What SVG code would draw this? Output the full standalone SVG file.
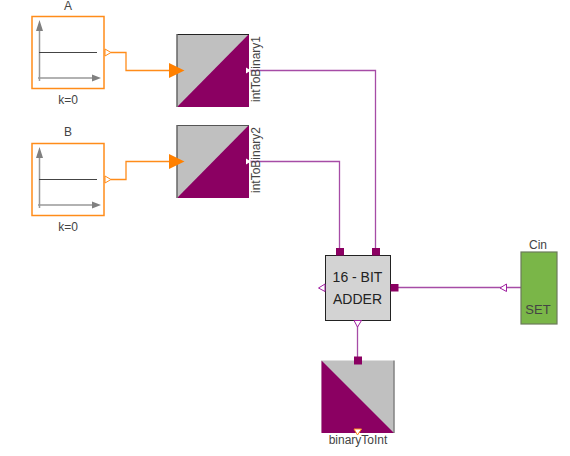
<svg xmlns="http://www.w3.org/2000/svg" width="570" height="456" viewBox="0 0 570 456">
<style>
text{font-family:"Liberation Sans",Arial,sans-serif;font-size:12px;fill:#444}
.src{fill:#fff;stroke:#ff8c1a;stroke-width:1.5}
.ax{fill:none;stroke:#999;stroke-width:1.5}
.tip{fill:#808080}
.lvl{stroke:#444;stroke-width:1;fill:none}
.or{fill:none;stroke:#ff8c1a;stroke-width:1.3}
.pu{fill:none;stroke:#a64ca6;stroke-width:1.3}
.port{fill:#8b0062}
.gr{fill:#c0c0c0}
.op{fill:#fff;stroke:#ff8c1a;stroke-width:1}
.opp{fill:#fff;stroke:#a020a0;stroke-width:1}
</style>
<g id="connectors">
<path class="or" d="M111 52.500H126V70.500H172"/>
<path class="or" d="M111 179.500H126V161.500H172"/>
<path class="pu" d="M250 70.500H375.500V248"/>
<path class="pu" d="M250 161.500H339.500V248"/>
<path class="pu" d="M398 287.500H521"/>
<path class="pu" d="M357.500 326V357"/>
</g>
<g id="A">
<rect class="src" x="32" y="16.500" width="72" height="72"/>
<path class="ax" d="M39.500 26V81M38 78H96"/>
<path class="tip" d="M39.500 20L36 31H43ZM101 78L92 74.500V81.500Z"/>
<path class="lvl" d="M39 52.500H97"/>
<path class="op" d="M105 49L111 52.500L105 56Z"/>
<text x="68" y="9.500" text-anchor="middle">A</text>
<text x="68" y="104" text-anchor="middle">k=0</text>
</g>
<g id="B">
<rect class="src" x="32" y="143.500" width="72" height="72"/>
<path class="ax" d="M39.500 153V208M38 205H96"/>
<path class="tip" d="M39.500 147L36 158H43ZM101 205L92 201.500V208.500Z"/>
<path class="lvl" d="M39 179.500H97"/>
<path class="op" d="M105 176L111 179.500L105 183Z"/>
<text x="68" y="136" text-anchor="middle">B</text>
<text x="68" y="231" text-anchor="middle">k=0</text>
</g>
<g id="intToBinary1">
<rect class="gr" x="177" y="34" width="72" height="72"/>
<path class="port" d="M249 34V107H177Z"/>
<path d="M177 34.500H249" stroke="#222" fill="none"/>
<path d="M177 34V107" stroke="#666" stroke-width="1.500" fill="none"/>
<path d="M169 63L184.500 70.500L169 78Z" fill="#ff8000"/>
<path d="M246 67.500L251 70.500L246 73.500Z" fill="#fff"/>
<text transform="translate(260 102) rotate(-90)">intToBinary1</text>
</g>
<g id="intToBinary2">
<rect class="gr" x="177" y="125" width="72" height="72"/>
<path class="port" d="M249 125V198H177Z"/>
<path d="M177 125.500H249" stroke="#555" fill="none"/>
<path d="M177 125V198" stroke="#666" stroke-width="1.500" fill="none"/>
<path d="M169 154L184.500 161.500L169 169Z" fill="#ff8000"/>
<path d="M246 158.500L251 161.500L246 164.500Z" fill="#fff"/>
<text transform="translate(260 193) rotate(-90)">intToBinary2</text>
</g>
<g id="adder">
<rect x="325.500" y="255.500" width="65" height="65" fill="#d3d3d3" stroke="#222"/>
<rect class="port" x="336" y="248" width="8" height="7.500"/>
<rect class="port" x="372" y="248" width="8" height="7.500"/>
<rect class="port" x="390.500" y="284" width="8" height="7.500"/>
<path class="opp" d="M325 284L318.500 288L325 291.500Z"/>
<path class="opp" d="M354 320.500H361.500L357.500 327Z"/>
<text x="357.500" y="282" text-anchor="middle" style="font-size:14px;fill:#222">16 - BIT</text>
<text x="357.500" y="304" text-anchor="middle" style="font-size:14px;fill:#222">ADDER</text>
</g>
<g id="Cin">
<rect x="521" y="252" width="36" height="72" fill="#7ab648" stroke="#6b7b5b" stroke-width="1.200"/>
<path class="opp" d="M506.500 284L500 288L506.500 291.500Z"/>
<text x="538" y="249" text-anchor="middle">Cin</text>
<text x="538" y="314" text-anchor="middle" style="font-size:13px">SET</text>
</g>
<g id="binaryToInt">
<rect class="gr" x="321.500" y="360.500" width="72" height="72"/>
<path class="port" d="M321.500 360.500L394 433H321.500Z"/>
<path d="M394 360.500V433" stroke="#444" fill="none"/>
<rect class="port" x="354" y="356.500" width="8" height="8"/>
<path d="M354 429H361.500L357.500 435Z" fill="#fff" stroke="#ff8c1a"/>
<text x="358" y="444" text-anchor="middle">binaryToInt</text>
</g>
</svg>
